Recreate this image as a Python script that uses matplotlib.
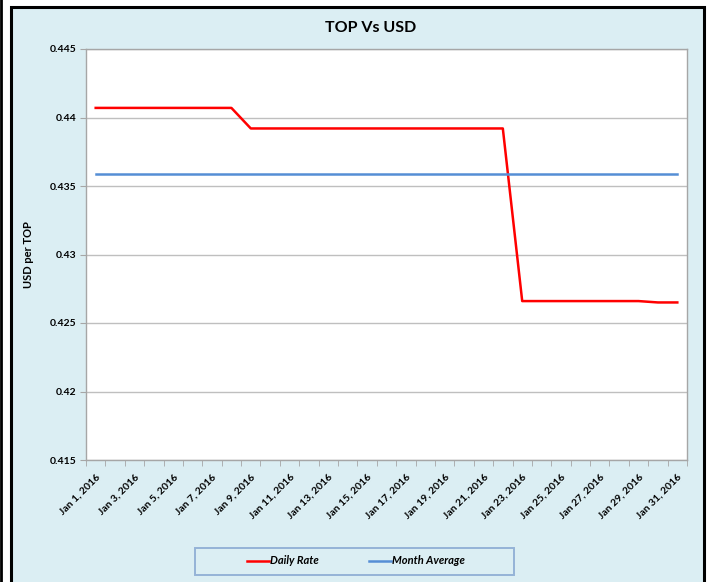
import numpy as np
import pandas as pd
import matplotlib
matplotlib.use("Agg")
import matplotlib.pyplot as plt
from matplotlib.patches import Rectangle
from matplotlib.lines import Line2D

# ---- data ----
dates = pd.date_range("2016-01-01", "2016-01-31", freq="D")
daily_rate = [0.4407] * 8 + [0.4392] * 14 + [0.4266] * 7 + [0.4265] * 2
month_avg = [0.4359] * 31

BG = "#DBEEF3"
RED = "#FF0000"
BLUE = "#558ED5"
GRID = "#BFBFBF"

plt.rcParams.update({
    "font.family": ["Lato", "DejaVu Sans"],
    "font.weight": "bold",
})

fig = plt.figure(figsize=(7.1, 5.82), dpi=100)
fig.patch.set_facecolor("white")

# outer chart frame
fig.add_artist(Rectangle((11 / 710, -0.01), (704 - 11) / 710, 1.01 - 7 / 582,
                         transform=fig.transFigure, facecolor=BG,
                         edgecolor="black", linewidth=2.2, zorder=-10))
fig.add_artist(Line2D([1.5 / 710, 1.5 / 710], [0, 1], transform=fig.transFigure,
                      color="black", linewidth=2.0, zorder=-10))
# legend box
fig.add_artist(Rectangle((195 / 710, 1 - 575 / 582), (514 - 195) / 710, 27 / 582,
                         transform=fig.transFigure, facecolor=BG,
                         edgecolor="#95B3D7", linewidth=1.4, zorder=-5))

ax = fig.add_axes([86 / 710, 1 - 460 / 582, (687 - 86) / 710, (460 - 49) / 582])
ax.set_zorder(2)
ax.set_facecolor("white")

ax.plot(dates, daily_rate, color=RED, linewidth=1.8, label="Daily Rate", zorder=3)
ax.plot(dates, month_avg, color=BLUE, linewidth=1.8, label="Month Average", zorder=3)

ax.set_ylim(0.415, 0.445)
ax.set_yticks(np.arange(0.415, 0.4451, 0.005))
ax.set_yticklabels(["0.415", "0.42", "0.425", "0.43", "0.435", "0.44", "0.445"])
ax.grid(axis="y", color=GRID, linewidth=1.0)
ax.set_axisbelow(True)

half = pd.Timedelta(hours=12)
ax.set_xlim(dates[0] - half, dates[-1] + half)
ax.set_xticks(dates[::2])
ax.set_xticklabels([f"Jan {d.day}, 2016" for d in dates[::2]],
                   rotation=45, ha="right", rotation_mode="anchor", fontsize=7.5)
ax.set_xticks([d - half for d in dates] + [dates[-1] + half], minor=True)
ax.tick_params(axis="x", which="major", length=0, pad=9)
ax.tick_params(axis="x", which="minor", length=4, color="#A6A6A6")
ax.tick_params(axis="y", length=4, color="#A6A6A6", labelsize=7.5, pad=3)

for s in ax.spines.values():
    s.set_color("#A6A6A6")
    s.set_linewidth(1.0)

ax.set_ylabel("USD per TOP", fontsize=8, fontweight="bold", labelpad=11)
fig.text(371 / 710, 1 - 28 / 582, "TOP Vs USD", ha="center", va="center",
         fontsize=11.5, fontweight="bold")

leg = fig.legend(loc="center", bbox_to_anchor=(356 / 710, 1 - 561 / 582), ncol=2,
                 frameon=False, handlelength=1.9, handletextpad=0.1,
                 columnspacing=4.6, borderpad=0.2,
                 prop={"style": "italic", "weight": "bold", "size": 8})
leg.set_zorder(5)

fig.savefig("out.png", dpi=100, facecolor=fig.get_facecolor())
